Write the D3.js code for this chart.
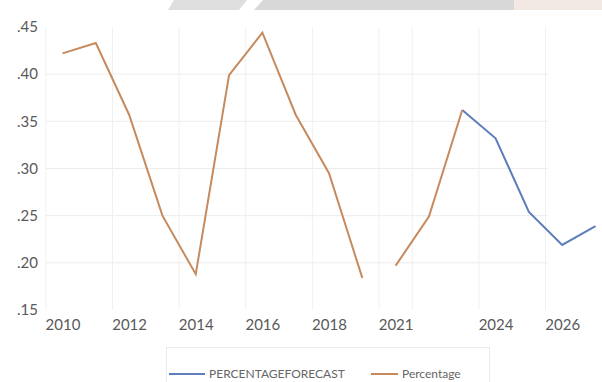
<!DOCTYPE html>
<html>
<head>
<meta charset="utf-8">
<script src="https://cdn.jsdelivr.net/npm/d3@7"></script>
<style>
  html, body { margin: 0; padding: 0; background: #fff; }
  svg { display: block; font-family: Lato, "Open Sans", sans-serif; }
</style>
</head>
<body>
<svg id="chart" width="602" height="382"></svg>
<script>
// Categories along the x axis (2020 has no entry)
const years = [2010, 2011, 2012, 2013, 2014, 2015, 2016, 2017, 2018, 2019,
               2021, 2022, 2023, 2024, 2025, 2026, 2027];
const xTickYears = [2010, 2012, 2014, 2016, 2018, 2021, 2024, 2026];
const yTicks = [0.15, 0.20, 0.25, 0.30, 0.35, 0.40, 0.45];

// Observed percentage, split where the series breaks
const percentageA = [0.422, 0.433, 0.357, 0.250, 0.188, 0.399, 0.444, 0.357, 0.295, 0.184];
const percentageAYears = [2010, 2011, 2012, 2013, 2014, 2015, 2016, 2017, 2018, 2019];
const percentageB = [0.197, 0.249, 0.362];
const percentageBYears = [2021, 2022, 2023];

// Forecast series
const forecast = [0.362, 0.332, 0.254, 0.219, 0.239];
const forecastYears = [2023, 2024, 2025, 2026, 2027];

const seriesNames = ["PERCENTAGEFORECAST", "Percentage"];
const colors = { forecast: "#5d7dbb", percentage: "#c68a5c" };

const svg = d3.select("#chart");

// Header band across the top of the page
svg.append("polygon").attr("points", "174,0 247,0 239,10 168,10").attr("fill", "#dedede");
svg.append("polygon").attr("points", "263,0 514,0 514,10 254,10").attr("fill", "#d8d8d8");
svg.append("rect").attr("x", 514).attr("y", 0).attr("width", 88).attr("height", 10).attr("fill", "#f3e9e4");

const x = d3.scalePoint().domain(years).range([62.5, 595.5]);
const step = x.step();
const y = d3.scaleLinear().domain([0.15, 0.45]).range([310, 27]);

const plotLeft = x(years[0]) - step / 2;
const gridRight = 548;

// Horizontal gridlines
svg.append("g").selectAll("line")
  .data(yTicks.filter(v => v > 0.15 && v < 0.45))
  .join("line")
  .attr("x1", plotLeft).attr("x2", gridRight)
  .attr("y1", d => y(d)).attr("y2", d => y(d))
  .attr("stroke", "#ededed").attr("stroke-width", 1);

// Vertical gridlines at category boundaries
const vBounds = [2010, 2012, 2014, 2016, 2018, 2021, 2022, 2024, 2026];
svg.append("g").selectAll("line")
  .data(vBounds)
  .join("line")
  .attr("x1", d => x(d) - step / 2).attr("x2", d => x(d) - step / 2)
  .attr("y1", y(0.45)).attr("y2", y(0.15))
  .attr("stroke", "#f0f0f0").attr("stroke-width", 1);

// Y axis labels
const fmt = v => d3.format(".2f")(v).replace(/^0/, "");
const yAxis = d3.axisLeft(y).tickValues(yTicks).tickFormat(fmt).tickSize(0).tickPadding(0);
const gy = svg.append("g").attr("transform", "translate(38,0)").call(yAxis);
gy.select(".domain").remove();
gy.selectAll("text").attr("fill", "#595959").style("font-size", "15px")
  .style("font-family", "Lato, sans-serif");

// X axis labels
const xAxis = d3.axisBottom(x).tickValues(xTickYears).tickSize(0).tickPadding(0);
const gx = svg.append("g").attr("transform", "translate(0,319)").call(xAxis);
gx.select(".domain").remove();
gx.selectAll("text").attr("fill", "#595959").style("font-size", "15px")
  .style("font-family", "Lato, sans-serif");

// Lines
const line = d3.line().x(d => x(d[0])).y(d => y(d[1]));
const drawLine = (yrs, vals, color) =>
  svg.append("path")
    .datum(yrs.map((yr, i) => [yr, vals[i]]))
    .attr("d", line)
    .attr("fill", "none")
    .attr("stroke", color)
    .attr("stroke-width", 2)
    .attr("stroke-linejoin", "miter");

drawLine(forecastYears, forecast, colors.forecast);
drawLine(percentageAYears, percentageA, colors.percentage);
drawLine(percentageBYears, percentageB, colors.percentage);

// Legend
const lg = svg.append("g");
lg.append("rect").attr("x", 166.5).attr("y", 347.5).attr("width", 323).attr("height", 40)
  .attr("fill", "none").attr("stroke", "#ebebeb");
const legendItems = [
  { name: seriesNames[0], color: colors.forecast, x0: 169, x1: 205, tx: 209 },
  { name: seriesNames[1], color: colors.percentage, x0: 371, x1: 398, tx: 402 }
];
legendItems.forEach(it => {
  lg.append("line").attr("x1", it.x0).attr("x2", it.x1).attr("y1", 374).attr("y2", 374)
    .attr("stroke", it.color).attr("stroke-width", 2);
  lg.append("text").attr("x", it.tx).attr("y", 378).text(it.name)
    .attr("fill", "#666").style("font-size", "12px");
});
</script>
</body>
</html>
